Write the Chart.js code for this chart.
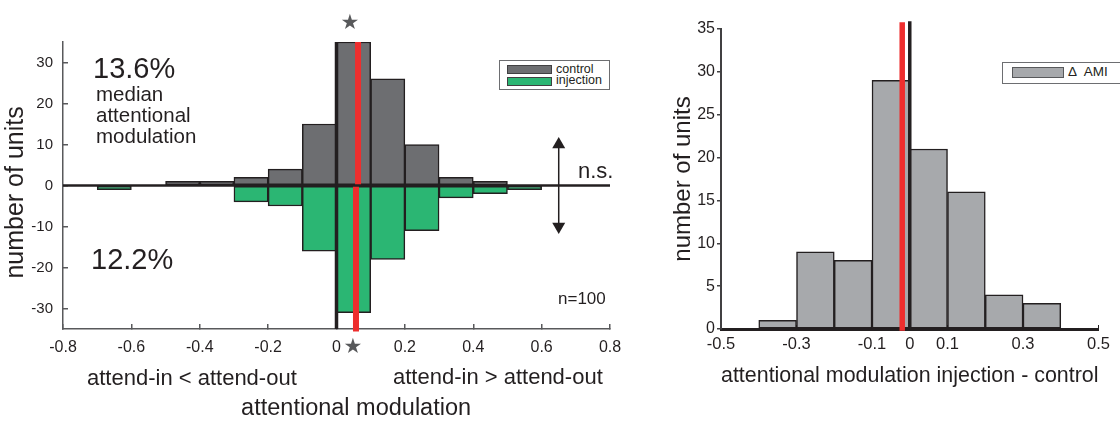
<!DOCTYPE html>
<html>
<head>
<meta charset="utf-8">
<script src="https://cdn.jsdelivr.net/npm/chart.js@4.4.1/dist/chart.umd.min.js"></script>
<style>
  html, body { margin: 0; padding: 0; background: #fff; }
  body { width: 1120px; height: 421px; position: relative; overflow: hidden;
         font-family: "Liberation Sans", Arial, sans-serif; color: #231f20; }
  .box { position: absolute; top: 0; }
  .box canvas { display: block; }
  .note { position: absolute; white-space: pre; line-height: 1; }
  .star { position: absolute; width: 24px; height: 24px; line-height: 24px; text-align: center;
          font-family: "DejaVu Sans", sans-serif; font-size: 21px; color: #58595b; }
  .frame { position: absolute; box-sizing: border-box; border: 1.5px solid #6d6e71; background: #fff; }
  .swatch { position: absolute; box-sizing: border-box; border: 1.5px solid #414042; }
</style>
</head>
<body>
<div class="box" style="left:0;width:640px;height:421px"><canvas id="amChart" width="640" height="421"></canvas></div>
<div class="box" style="left:660px;width:460px;height:421px"><canvas id="deltaChart" width="460" height="421"></canvas></div>

<!-- left panel annotations -->
<div class="note" style="left:93px;top:54px;font-size:29px">13.6%</div>
<div class="note" style="left:96px;top:83px;font-size:20.5px;line-height:21px">median
attentional
modulation</div>
<div class="note" style="left:91px;top:245px;font-size:29px">12.2%</div>
<div class="note" style="left:578px;top:160px;font-size:22px">n.s.</div>
<div class="note" style="left:558px;top:290px;font-size:17px">n=100</div>
<div class="note" style="left:87px;top:367px;font-size:22px">attend-in &lt; attend-out</div>
<div class="note" style="left:393px;top:366px;font-size:22px">attend-in &gt; attend-out</div>
<div class="star" style="left:338px;top:10px">★</div>
<div class="star" style="left:341px;top:334px">★</div>

<div class="frame" style="left:499px;top:60px;width:111px;height:30px"></div>
<div class="swatch" style="left:507px;top:65px;width:45px;height:9px;background:#6d6e71"></div>
<div class="swatch" style="left:507px;top:77px;width:45px;height:9px;background:#2bb673"></div>
<div class="note" style="left:556px;top:63px;font-size:12.5px">control</div>
<div class="note" style="left:556px;top:74px;font-size:12.5px">injection</div>

<!-- right panel legend -->
<div class="frame" style="left:1002px;top:62px;width:130px;height:22px"></div>
<div class="swatch" style="left:1012px;top:67px;width:52px;height:11px;background:#a7a9ac;border-color:#58595b"></div>
<div class="note" style="left:1068px;top:65px;font-size:13.5px">Δ  AMI</div>

<script>
// left panel: attentional modulation histogram (bin centres, bin width 0.1)
const binCenters = [-0.65, -0.55, -0.45, -0.35, -0.25, -0.15, -0.05, 0.05, 0.15, 0.25, 0.35, 0.45, 0.55];
const controlCounts = [0, 0, 1, 1, 2, 4, 15, 35, 26, 10, 2, 1, 0];
const injectionCounts = [-1, 0, 0, 0, -4, -5, -16, -31, -18, -11, -3, -2, -1];
const amTicksX = [-0.8, -0.6, -0.4, -0.2, 0, 0.2, 0.4, 0.6, 0.8];
const amTickLabelsX = ['-0.8', '-0.6', '-0.4', '-0.2', '0', '0.2', '0.4', '0.6', '0.8'];
const amTicksY = [-30, -20, -10, 0, 10, 20, 30];
const amTickLabelsY = ['-30', '-20', '-10', '0', '10', '20', '30'];
const controlMedian = 0.063;
const injectionMedian = 0.057;
const nsArrowX = 0.65;
const nsArrowEnds = [10, -10];

// right panel: change in attentional modulation
const deltaCenters = [-0.35, -0.25, -0.15, -0.05, 0.05, 0.15, 0.25, 0.35];
const deltaCounts = [1, 9, 8, 29, 21, 16, 4, 3];
const deltaTicksX = [-0.5, -0.3, -0.1, 0, 0.1, 0.3, 0.5];
const deltaTickLabelsX = ['-0.5', '-0.3', '-0.1', '0', '0.1', '0.3', '0.5'];
const deltaTicksY = [0, 5, 10, 15, 20, 25, 30, 35];
const deltaMedian = -0.02;

const INK = '#231f20';
const AXIS = '#58595b';
const RED = '#ee2e2e';

Chart.defaults.font.family = '"Liberation Sans", Arial, sans-serif';
Chart.defaults.color = INK;

// zero counts are left out so no empty bar outline is drawn
const toPoints = (xs, ys) => xs.map((x, i) => ({ x: x, y: ys[i] === 0 ? null : ys[i] }));
const vline = (x, y0, y1) => [{ x: x, y: y0 }, { x: x, y: y1 }];

function barSet(label, data, color) {
    return {
        label: label,
        data: data,
        backgroundColor: color,
        borderColor: INK,
        borderWidth: 1.5,
        borderSkipped: false,
        grouped: false,
        barPercentage: 1,
        categoryPercentage: 1,
        order: 1
    };
}

function lineSet(data, color, width, extra) {
    return Object.assign({
        type: 'line',
        data: data,
        borderColor: color,
        borderWidth: width,
        pointRadius: 0,
        fill: false,
        clip: false,
        order: 0
    }, extra || {});
}

function fixedTicks(values) {
    return scale => { scale.ticks = values.map(v => ({ value: v })); };
}

// left chart
new Chart(document.getElementById('amChart'), {
    type: 'bar',
    data: {
        datasets: [
            lineSet([{ x: -0.8, y: 0 }, { x: 0.8, y: 0 }], INK, 2.5),
            lineSet(vline(controlMedian, 0, 35), RED, 6),
            lineSet(vline(injectionMedian, -35.6, 0), RED, 6),
            lineSet(vline(0, -35, 35), INK, 3.5),
            lineSet(vline(nsArrowX, nsArrowEnds[0], nsArrowEnds[1]), INK, 1.5, {
                pointRadius: 7.5,
                pointStyle: 'triangle',
                pointRotation: [0, 180],
                pointBackgroundColor: INK,
                pointBorderWidth: 0
            }),
            barSet('control', toPoints(binCenters, controlCounts), '#6d6e71'),
            barSet('injection', toPoints(binCenters, injectionCounts), '#2bb673')
        ]
    },
    options: {
        responsive: false,
        animation: false,
        layout: { padding: { left: 0, right: 30, top: 42, bottom: 0 } },
        plugins: { legend: { display: false }, tooltip: { enabled: false } },
        scales: {
            x: {
                type: 'linear',
                min: -0.8,
                max: 0.8,
                offset: false,
                afterBuildTicks: fixedTicks(amTicksX),
                afterFit: s => { s.height = 92; },
                grid: { offset: false, drawOnChartArea: false, tickLength: -5, color: AXIS, lineWidth: 1.5 },
                border: { color: AXIS, width: 1.5 },
                ticks: {
                    callback: (v, i) => amTickLabelsX[i],
                    font: { size: 16 },
                    padding: 14,
                    maxRotation: 0,
                    autoSkip: false
                },
                title: {
                    display: true,
                    text: '      attentional modulation',
                    font: { size: 23.5, lineHeight: 1 },
                    padding: { top: 0, bottom: 1 }
                }
            },
            y: {
                min: -35,
                max: 35,
                afterBuildTicks: fixedTicks(amTicksY),
                afterFit: s => { s.width = 63; },
                grid: { drawOnChartArea: false, tickLength: -5, color: AXIS, lineWidth: 1.5 },
                border: { color: AXIS, width: 1.5 },
                ticks: {
                    callback: (v, i) => amTickLabelsY[i],
                    font: { size: 15 },
                    padding: 15
                },
                title: {
                    display: true,
                    text: 'number of units  ',
                    font: { size: 25 },
                    padding: { top: 1, bottom: 0 }
                }
            }
        }
    }
});

// right chart
new Chart(document.getElementById('deltaChart'), {
    type: 'bar',
    data: {
        datasets: [
            lineSet(vline(deltaMedian, -0.2, 35.8), RED, 5.5),
            lineSet(vline(0, 0, 35.9), INK, 3.5),
            barSet('Δ AMI', toPoints(deltaCenters, deltaCounts), '#a7a9ac')
        ]
    },
    options: {
        responsive: false,
        animation: false,
        layout: { padding: { left: 0, right: 19, top: 29, bottom: 0 } },
        plugins: { legend: { display: false }, tooltip: { enabled: false } },
        scales: {
            x: {
                type: 'linear',
                min: -0.5,
                max: 0.5,
                offset: false,
                afterBuildTicks: fixedTicks(deltaTicksX),
                afterFit: s => { s.height = 92; },
                grid: { offset: false, drawOnChartArea: false, tickLength: -4, color: INK, lineWidth: 1 },
                border: { color: INK, width: 3 },
                ticks: {
                    callback: (v, i) => deltaTickLabelsX[i],
                    font: { size: 16.5 },
                    padding: 10,
                    maxRotation: 0,
                    autoSkip: false
                },
                title: {
                    display: true,
                    text: 'attentional modulation injection - control',
                    font: { size: 22.8 },
                    padding: { top: 0, bottom: 32 }
                }
            },
            y: {
                min: 0,
                max: 35,
                afterBuildTicks: fixedTicks(deltaTicksY),
                afterFit: s => { s.width = 61; },
                grid: { drawOnChartArea: false, tickLength: 4, color: '#414042', lineWidth: 1.5 },
                border: { color: '#414042', width: 2 },
                ticks: { font: { size: 16 }, padding: 2 },
                title: {
                    display: true,
                    text: 'number of units',
                    font: { size: 24 },
                    padding: { top: 9, bottom: 0 }
                }
            }
        }
    }
});
</script>
</body>
</html>
